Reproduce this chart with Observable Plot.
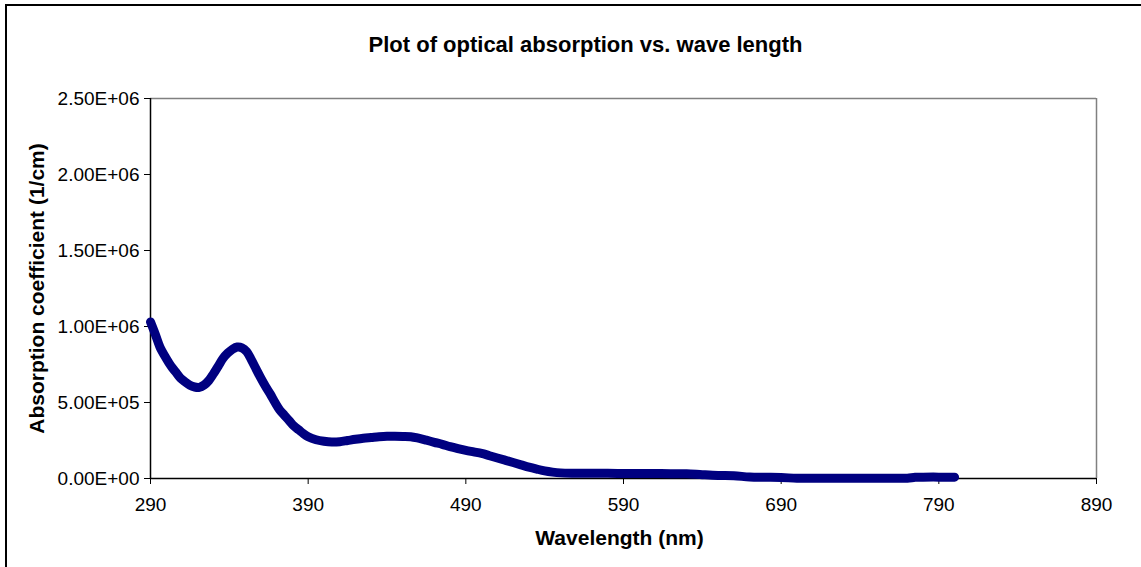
<!DOCTYPE html>
<html>
<head>
<meta charset="utf-8">
<script src="https://cdn.jsdelivr.net/npm/d3@7"></script>
<script src="https://cdn.jsdelivr.net/npm/@observablehq/plot@0.6"></script>
<style>
  html, body { margin: 0; padding: 0; background: #fff; overflow: hidden; }
  #wrap { position: relative; width: 1141px; height: 567px; }
  #border { position: absolute; left: 5px; top: 4px; width: 1200px; height: 700px; border: 2px solid #000; box-sizing: border-box; pointer-events: none; }
  #chart { position: absolute; left: 0; top: 0; }
</style>
</head>
<body>
<div id="wrap">
  <div id="chart"></div>
  <div id="border"></div>
</div>
<script>
const titleText = "Plot of optical absorption vs. wave length";
const xLabel = "Wavelength (nm)";
const yLabel = "Absorption coefficient (1/cm)";
const xTicks = [290, 390, 490, 590, 690, 790, 890];
const yTicks = [0, 500000, 1000000, 1500000, 2000000, 2500000];

const wavelength = [
  290, 293, 296, 300, 303, 306, 309, 312, 315, 318, 321, 324, 327, 330, 333, 336, 339, 342, 345, 348,
  351, 354, 357, 360, 363, 366, 369, 372, 375, 378, 381, 384, 387, 390, 395, 400, 405, 410, 415, 420,
  425, 430, 435, 440, 445, 450, 455, 460, 465, 470, 475, 480, 485, 490, 495, 500, 505, 510, 515, 520,
  525, 530, 535, 540, 545, 550, 560, 570, 580, 590, 600, 610, 620, 630, 640, 650, 660, 670, 680, 690,
  700, 710, 720, 730, 740, 750, 760, 770, 775, 780, 790, 800
];
const absorption = [
  1030000, 950000, 865000, 790000, 740000, 700000, 660000, 635000, 613000, 602000, 600000, 615000, 645000, 690000, 740000, 790000, 825000, 850000, 865000, 860000,
  835000, 780000, 720000, 660000, 605000, 555000, 500000, 450000, 415000, 380000, 345000, 320000, 295000, 275000, 255000, 245000, 240000, 242000, 250000, 258000,
  265000, 270000, 275000, 278000, 278000, 277000, 275000, 265000, 252000, 238000, 225000, 210000, 197000, 185000, 175000, 165000, 150000, 135000, 120000, 105000,
  90000, 75000, 62000, 50000, 42000, 37000, 35000, 34000, 34000, 33000, 33000, 33000, 32000, 31000, 25000, 20000, 18000, 10000, 8000, 6000,
  2000, 1000, 1000, 1000, 1000, 1000, 1000, 2000, 8000, 9000, 9000, 9000
];

const data = wavelength.map((w, i) => ({w, a: absorption[i]}));

function sci(d) {
  if (d === 0) return "0.00E+00";
  const e = Math.floor(Math.log10(Math.abs(d)));
  const m = d / Math.pow(10, e);
  return m.toFixed(2) + "E" + (e >= 0 ? "+" : "-") + String(Math.abs(e)).padStart(2, "0");
}

const chart = Plot.plot({
  width: 1141,
  height: 567,
  marginLeft: 150,
  marginRight: 45,
  marginTop: 98,
  marginBottom: 89,
  style: {fontFamily: "'Liberation Sans', Arial, sans-serif", fontSize: "19px", color: "#000", background: "transparent", overflow: "visible"},
  x: {domain: [290, 890], ticks: xTicks},
  y: {domain: [0, 2500000], ticks: yTicks},
  marks: [
    Plot.ruleY([2500000], {stroke: "#808080", strokeWidth: 1.5}),
    Plot.ruleX([890], {stroke: "#808080", strokeWidth: 1.5}),
    Plot.axisX({ticks: xTicks, tickSize: 6, tickPadding: 13, label: null, fontSize: 19, stroke: "#000", strokeOpacity: 1}),
    Plot.axisY({ticks: yTicks, tickSize: 6, tickPadding: 5, tickFormat: sci, label: null, fontSize: 19, stroke: "#000", strokeOpacity: 1}),
    Plot.ruleX([290], {stroke: "#000", strokeWidth: 1.5}),
    Plot.ruleY([0], {stroke: "#000", strokeWidth: 1.5}),
    Plot.line(data, {x: "w", y: "a", stroke: "#000080", strokeWidth: 9, curve: "catmull-rom", strokeLinecap: "round", strokeLinejoin: "round"}),
    Plot.text([titleText], {frameAnchor: "top", textAnchor: "middle", dx: -38, dy: -62, fontWeight: "bold", fontSize: 22, fill: "#000"}),
    Plot.text([xLabel], {frameAnchor: "bottom", textAnchor: "middle", dx: -4, dy: 66, fontWeight: "bold", fontSize: 21, fill: "#000"}),
    Plot.text([yLabel], {frameAnchor: "left", textAnchor: "middle", dx: -113, rotate: -90, fontWeight: "bold", fontSize: 21, fill: "#000"})
  ]
});
document.getElementById("chart").appendChild(chart);
</script>
</body>
</html>
